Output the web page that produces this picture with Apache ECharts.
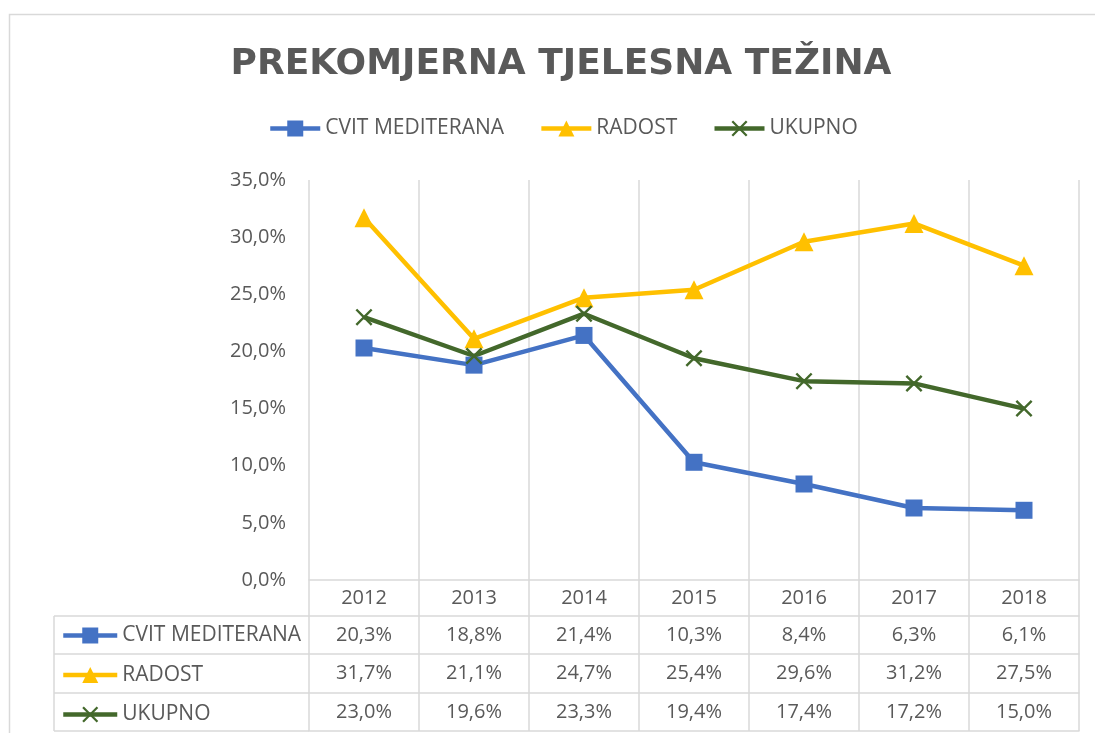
<!DOCTYPE html>
<html>
<head>
<meta charset="utf-8">
<title>Prekomjerna tjelesna težina</title>
<script src="https://cdn.jsdelivr.net/npm/echarts@6/dist/echarts.min.js"></script>
<style>
  html, body { margin: 0; padding: 0; background: #fff; }
  #chart { width: 1095px; height: 733px; }
</style>
</head>
<body>
<div id="chart"></div>
<script>
// podaci
var years = ['2012', '2013', '2014', '2015', '2016', '2017', '2018'];
var cvit = [20.3, 18.8, 21.4, 10.3, 8.4, 6.3, 6.1];
var radost = [31.7, 21.1, 24.7, 25.4, 29.6, 31.2, 27.5];
var ukupno = [23.0, 19.6, 23.3, 19.4, 17.4, 17.2, 15.0];
var yTicks = [0, 35, 5]; // min, max, interval

var font = 'Open Sans';
var grey = '#595959';
var lineGrey = '#D9D9D9';
var crossPath = 'path://M0,1.6L1.6,0L8,6.4L14.4,0L16,1.6L9.6,8L16,14.4L14.4,16L8,9.6L1.6,16L0,14.4L6.4,8Z';

function pct(v) {
    return v.toFixed(1).replace('.', ',') + '%';
}

// redovi tablice ispod grafa
var rows = [
    { data: cvit, offset: 36, h: 38 },
    { data: radost, offset: 74, h: 39 },
    { data: ukupno, offset: 113, h: 38 }
];

var xAxes = [{
    type: 'category',
    data: years,
    boundaryGap: true,
    axisLine: { show: true, lineStyle: { color: lineGrey, width: 1.5 } },
    axisTick: { show: true, interval: 0, length: 36, lineStyle: { color: lineGrey, width: 1.5 } },
    splitLine: { show: true, interval: 0, lineStyle: { color: lineGrey, width: 1.5 } },
    axisLabel: { color: grey, fontFamily: font, fontSize: 20, margin: 8, interval: 0 }
}];
rows.forEach(function (r) {
    xAxes.push({
        type: 'category',
        data: years,
        position: 'bottom',
        offset: r.offset,
        boundaryGap: true,
        axisLine: { show: true, lineStyle: { color: lineGrey, width: 1.5 } },
        axisTick: { show: true, interval: 0, length: r.h, lineStyle: { color: lineGrey, width: 1.5 } },
        splitLine: { show: false },
        axisLabel: {
            color: grey, fontFamily: font, fontSize: 20, interval: 0,
            margin: r.h / 2 - 10,
            formatter: function (v, i) { return pct(r.data[i]); }
        }
    });
});
xAxes.push({
    type: 'category',
    data: years,
    position: 'bottom',
    offset: 151,
    axisLine: { show: true, lineStyle: { color: lineGrey, width: 1.5 } },
    axisTick: { show: false },
    axisLabel: { show: false }
});

var myChart = echarts.init(document.getElementById('chart'));
var option = {
    backgroundColor: '#fff',
    animation: false,
    title: {
        text: 'PREKOMJERNA TJELESNA TEŽINA',
        left: 556,
        textAlign: 'center',
        top: 42,
        textStyle: { color: grey, fontFamily: 'DejaVu Sans', fontWeight: 'bold', fontSize: 36 }
    },
    legend: [{
        left: 268,
        top: 118,
        padding: 0,
        itemWidth: 50,
        itemHeight: 20,
        itemGap: 35,
        lineStyle: { width: 4.5 },
        textStyle: { color: grey, fontFamily: font, fontSize: 21 },
        data: ['CVIT MEDITERANA', 'RADOST', 'UKUPNO']
    }, {
        orient: 'vertical',
        left: 61,
        top: 625,
        padding: 0,
        itemWidth: 54,
        itemHeight: 20,
        itemGap: 18.5,
        lineStyle: { width: 4.5 },
        textStyle: { color: grey, fontFamily: font, fontSize: 21, lineHeight: 20 },
        data: ['CVIT MEDITERANA', 'RADOST', 'UKUPNO']
    }],
    grid: { left: 309, right: 16, top: 180, bottom: 153 },
    xAxis: xAxes,
    yAxis: {
        type: 'value',
        min: yTicks[0],
        max: yTicks[1],
        interval: yTicks[2],
        axisLine: { show: false },
        axisTick: { show: false },
        splitLine: { show: false },
        axisLabel: { color: grey, fontFamily: font, fontSize: 20, margin: 23, formatter: pct }
    },
    graphic: [
        { type: 'rect', shape: { x: 9.5, y: 14.5, width: 1100, height: 740 }, style: { fill: 'none', stroke: lineGrey, lineWidth: 1.5 }, silent: true },
        { type: 'line', shape: { x1: 54, y1: 616, x2: 309, y2: 616 }, style: { stroke: lineGrey, lineWidth: 1.5 } },
        { type: 'line', shape: { x1: 54, y1: 654, x2: 309, y2: 654 }, style: { stroke: lineGrey, lineWidth: 1.5 } },
        { type: 'line', shape: { x1: 54, y1: 693, x2: 309, y2: 693 }, style: { stroke: lineGrey, lineWidth: 1.5 } },
        { type: 'line', shape: { x1: 54, y1: 731, x2: 309, y2: 731 }, style: { stroke: lineGrey, lineWidth: 1.5 } },
        { type: 'line', shape: { x1: 54, y1: 616, x2: 54, y2: 731 }, style: { stroke: lineGrey, lineWidth: 1.5 } }
    ],
    series: [{
        name: 'CVIT MEDITERANA',
        type: 'line',
        data: cvit,
        symbol: 'rect',
        symbolSize: 17,
        lineStyle: { color: '#4472C4', width: 4.5 },
        itemStyle: { color: '#4472C4' }
    }, {
        name: 'RADOST',
        type: 'line',
        data: radost,
        symbol: 'triangle',
        symbolSize: 19,
        lineStyle: { color: '#FFC000', width: 4.5 },
        itemStyle: { color: '#FFC000' }
    }, {
        name: 'UKUPNO',
        type: 'line',
        data: ukupno,
        symbol: crossPath,
        symbolSize: 17,
        lineStyle: { color: '#43682B', width: 4.5 },
        itemStyle: { color: '#43682B' }
    }]
};
myChart.setOption(option);
</script>
</body>
</html>
